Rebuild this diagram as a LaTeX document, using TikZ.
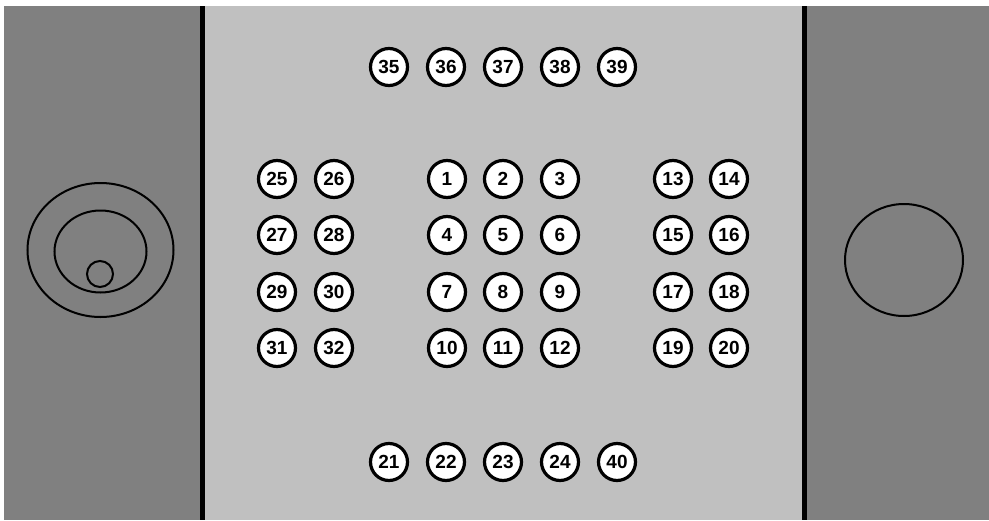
\documentclass[tikz,border=0pt]{standalone}
\usepackage{fontspec}
\setmainfont{Liberation Sans}
\definecolor{panelgrey}{RGB}{128, 128, 128}
\definecolor{facegrey}{RGB}{192, 192, 192}
\usetikzlibrary{positioning}
\tikzset{
  btn/.style={circle, draw=black, fill=white, line width=3.2pt, minimum size=37pt, inner sep=0pt,
              font=\fontsize{19}{19}\selectfont\bfseries},
  knob/.style={draw=black, line width=2pt}
}

\begin{document}
\begin{tikzpicture}[x=1pt, y=-1pt]
                    % panels
                    \fill[white] (0, 0) rectangle (989, 520);
                    \fill[panelgrey] (4, 6) rectangle (200, 520);
                    \fill[facegrey] (205, 6) rectangle (802, 520);
                    \fill[panelgrey] (807, 6) rectangle (989, 520);
                    \fill[black] (200, 6) rectangle (205, 520);
                    \fill[black] (802, 6) rectangle (807, 520);
                    % left stick and right dial
                    \draw[knob] (100.5, 250) ellipse [x radius=73pt, y radius=67pt];
                    \draw[knob] (100.5, 251.5) ellipse [x radius=46pt, y radius=41pt];
                    \draw[knob] (100, 274) circle [radius=13pt];
                    \draw[knob] (904, 260) ellipse [x radius=59pt, y radius=56pt];
                    % top row
                    \node[btn] (b35) at (389, 67) {35};
                    \node[btn] (b36) at (446, 67) {36};
                    \node[btn] (b37) at (503, 67) {37};
                    \node[btn] (b38) at (560, 67) {38};
                    \node[btn] (b39) at (617, 67) {39};
                    % left block
                    \node[btn] (b25) at (277, 179) {25};
                    \node[btn] (b26) at (334, 179) {26};
                    \node[btn] (b27) at (277, 235) {27};
                    \node[btn] (b28) at (334, 235) {28};
                    \node[btn] (b29) at (277, 292) {29};
                    \node[btn] (b30) at (334, 292) {30};
                    \node[btn] (b31) at (277, 348) {31};
                    \node[btn] (b32) at (334, 348) {32};
                    % middle block
                    \node[btn] (b1) at (447, 179) {1};
                    \node[btn] (b2) at (503, 179) {2};
                    \node[btn] (b3) at (560, 179) {3};
                    \node[btn] (b4) at (447, 235) {4};
                    \node[btn] (b5) at (503, 235) {5};
                    \node[btn] (b6) at (560, 235) {6};
                    \node[btn] (b7) at (447, 292) {7};
                    \node[btn] (b8) at (503, 292) {8};
                    \node[btn] (b9) at (560, 292) {9};
                    \node[btn] (b10) at (447, 348) {10};
                    \node[btn] (b11) at (503, 348) {11};
                    \node[btn] (b12) at (560, 348) {12};
                    % right block
                    \node[btn] (b13) at (673, 179) {13};
                    \node[btn] (b14) at (729, 179) {14};
                    \node[btn] (b15) at (673, 235) {15};
                    \node[btn] (b16) at (729, 235) {16};
                    \node[btn] (b17) at (673, 292) {17};
                    \node[btn] (b18) at (729, 292) {18};
                    \node[btn] (b19) at (673, 348) {19};
                    \node[btn] (b20) at (729, 348) {20};
                    % bottom row
                    \node[btn] (b21) at (389, 462) {21};
                    \node[btn] (b22) at (446, 462) {22};
                    \node[btn] (b23) at (503, 462) {23};
                    \node[btn] (b24) at (560, 462) {24};
                    \node[btn] (b40) at (617, 462) {40};
                \end{tikzpicture}
\end{document}
